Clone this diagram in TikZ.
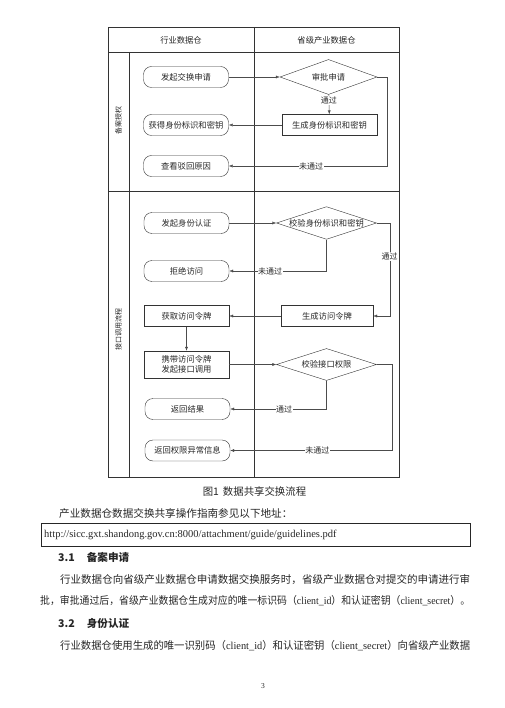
\documentclass[tikz,border=0pt]{standalone}
\usepackage{fontspec}
\setmainfont{Liberation Serif}
\newfontfamily\cjk{Noto Sans CJK SC}
\usetikzlibrary{shapes.geometric,arrows.meta,positioning}

\begin{document}
\begin{tikzpicture}[x=1pt,y=-1pt,
    every node/.style={text=black!85},
    term/.style={draw=black!80,rounded corners=8pt,minimum width=85pt,minimum height=21pt,inner sep=1pt,font=\cjk\fontsize{8.3}{10}\selectfont},
    proc/.style={draw=black!80,minimum width=85pt,minimum height=21pt,inner sep=1pt,align=center,font=\cjk\fontsize{8.3}{10}\selectfont},
    check/.style={diamond,aspect=3,draw=black!80,minimum width=100pt,minimum height=32pt,inner sep=0pt,font=\cjk\fontsize{8.3}{10}\selectfont},
    flow/.style={draw=black!70,-{Latex[length=4pt,width=3pt]}},
    tag/.style={fill=white,inner sep=0.5pt,font=\cjk\fontsize{8}{10}\selectfont},
    lane/.style={rotate=90,font=\cjk\fontsize{7}{8}\selectfont},
    body/.style={anchor=west,inner sep=0pt,font=\cjk\fontsize{10.6}{12}\selectfont}]
    \useasboundingbox (0,0) rectangle (504,708);
    % frame
    \draw[black!80,line width=0.8pt] (108,27) rectangle (399,477);
    \draw[black!80] (108,52) -- (399,52);
    \draw[black!80] (129,52) -- (129,477);
    \draw[black!80] (254,27) -- (254,477);
    \draw[black!80] (108,191) -- (399,191);
    \node [font=\cjk\fontsize{8.3}{10}\selectfont] (headA) at (181,40) {行业数据仓};
    \node [font=\cjk\fontsize{8.3}{10}\selectfont] (headB) at (326.5,40) {省级产业数据仓};
    \node [lane] (laneA) at (118.5,121) {备案授权};
    \node [lane] (laneB) at (118.5,329) {接口调用流程};
    % filing
    \node [term] (start1) at (186,77) {发起交换申请};
    \node [check,minimum width=97pt,minimum height=35pt] (approve) at (328.5,77) {审批申请};
    \node [proc,minimum width=95pt] (gen1) at (329.5,125) {生成身份标识和密钥};
    \node [term] (get1) at (186,125) {获得身份标识和密钥};
    \node [term] (view1) at (186,166) {查看驳回原因};
    \draw [flow] (start1) -- (approve);
    \draw [flow] (approve) -- node[tag,pos=0.3] {通过} (gen1);
    \draw [flow] (gen1) -- (get1);
    \draw [flow] (approve.east) -- ++(10,0) |- node[tag,pos=0.74] {未通过} (view1);
    % calls
    \node [term] (start2) at (186.5,223) {发起身份认证};
    \node [check] (verify1) at (326.5,223) {校验身份标识和密钥};
    \node [term] (reject) at (186.5,271) {拒绝访问};
    \node [proc] (get2) at (186.5,316) {获取访问令牌};
    \node [proc,minimum width=92pt] (gen2) at (327,316) {生成访问令牌};
    \node [proc,minimum height=27pt] (call) at (186.5,364.5) {携带访问令牌\\发起接口调用};
    \node [check] (verify2) at (326.5,364.5) {校验接口权限};
    \node [term] (result) at (187.5,409) {返回结果};
    \node [term] (error) at (187.5,450.5) {返回权限异常信息};
    \draw [flow] (start2) -- (verify1);
    \draw [flow] (verify1.east) -- ++(13,0) |- node[tag,pos=0.18] {通过} (gen2);
    \draw [flow] (verify1.south) |- node[tag,pos=0.79] {未通过} (reject);
    \draw [flow] (gen2) -- (get2);
    \draw [flow] (get2) -- (call);
    \draw [flow] (call) -- (verify2);
    \draw [flow] (verify2.south) |- node[tag,pos=0.72] {通过} (result);
    \draw [flow] (verify2.east) -- ++(15,0) |- node[tag,pos=0.73] {未通过} (error);
    % text below
    \node [font=\cjk\fontsize{10.4}{12}\selectfont] (caption) at (254.5,491.5) {图1\hspace{4pt}数据共享交换流程};
    \node [body] (intro) at (59,513) {产业数据仓数据交换共享操作指南参见以下地址：};
    \draw [black!85] (41,523) rectangle (470,546);
    \node [anchor=west,inner sep=0pt,font=\fontsize{10.5}{12}\selectfont] (url) at (44,535) {http://sicc.gxt.shandong.gov.cn:8000/attachment/guide/guidelines.pdf};
    \node [anchor=west,inner sep=0pt,font=\cjk\bfseries\fontsize{10.6}{12}\selectfont] (secA) at (58,557) {3.1\hspace{12pt}备案申请};
    \node [body] (lineA) at (60,580) {\resizebox{410pt}{\height}{行业数据仓向省级产业数据仓申请数据交换服务时，省级产业数据仓对提交的申请进行审}};
    \node [body] (lineB) at (40,601) {\resizebox{430pt}{\height}{批，审批通过后，省级产业数据仓生成对应的唯一标识码（{\rmfamily client\_id}）和认证密钥（{\rmfamily client\_secret}）。}};
    \node [anchor=west,inner sep=0pt,font=\cjk\bfseries\fontsize{10.6}{12}\selectfont] (secB) at (58,623) {3.2\hspace{12pt}身份认证};
    \node [body] (lineC) at (60,646) {\resizebox{410pt}{\height}{行业数据仓使用生成的唯一识别码（{\rmfamily client\_id}）和认证密钥（{\rmfamily client\_secret}）向省级产业数据}};
    \node [font=\fontsize{7.5}{9}\selectfont] (page) at (263,686) {3};
\end{tikzpicture}
\end{document}
